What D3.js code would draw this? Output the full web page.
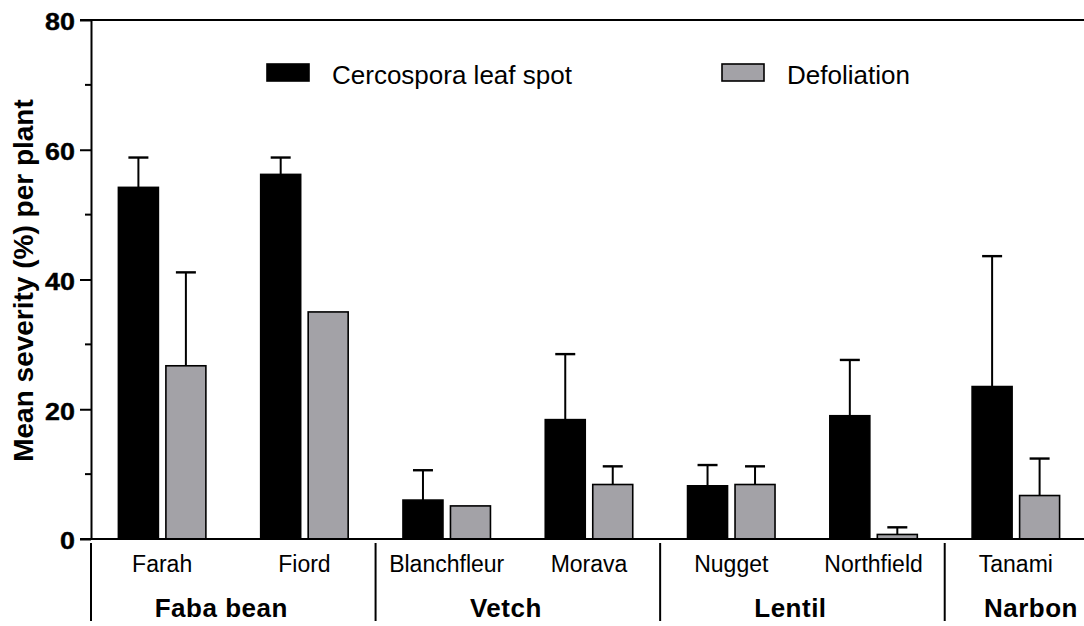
<!DOCTYPE html>
<html>
<head>
<meta charset="utf-8">
<script src="https://cdn.jsdelivr.net/npm/d3@7"></script>
<style>
  body { margin: 0; background: #fff; }
  text { font-family: "Liberation Sans", Arial, sans-serif; fill: #000; }
</style>
</head>
<body>
<div id="chart"></div>
<script>
// Data
let categories = ['Farah', 'Fiord', 'Blanchfleur', 'Morava', 'Nugget', 'Northfield', 'Tanami'];
let groups = ['Faba bean', 'Vetch', 'Lentil', 'Narbon'];
let group_of = ['Faba bean', 'Faba bean', 'Vetch', 'Vetch', 'Lentil', 'Lentil', 'Narbon'];
let series = ['Cercospora leaf spot', 'Defoliation'];
let leaf_spot = [54.2, 56.2, 6.0, 18.4, 8.2, 19.0, 23.5];
let leaf_spot_err = [4.6, 2.6, 4.6, 10.1, 3.2, 8.6, 20.1];
let defoliation = [26.7, 35.0, 5.1, 8.4, 8.4, 0.7, 6.7];
let defoliation_err = [14.4, 0, 0, 2.8, 2.8, 1.1, 5.7];
let y_ticks = [0, 20, 40, 60, 80];
let y_minor = [10, 30, 50, 70];

//----------------------------------------
// SVG setup
let width = 1084,
    height = 626;

let svg = d3.select('#chart').append('svg')
    .attr('width', width)
    .attr('height', height);

let plot_left = 91, plot_top = 20, plot_bottom = 539;

//----------------------------------------
// Scales
let x = d3.scaleBand()
    .domain(categories)
    .range([plot_left, 1087])
    .padding(0);

let x_inner = d3.scaleBand()
    .domain(series)
    .range([0, x.bandwidth()])
    .paddingInner(0.158)
    .paddingOuter(0.577);

let y = d3.scaleLinear()
    .domain([0, 80])
    .range([plot_bottom, plot_top]);

let colors = { 'Cercospora leaf spot': '#000000', 'Defoliation': '#a3a2a7' };

let rows = [];
categories.forEach(function(c, i) {
    rows.push({ cat: c, s: series[0], v: leaf_spot[i], e: leaf_spot_err[i] });
    rows.push({ cat: c, s: series[1], v: defoliation[i], e: defoliation_err[i] });
});

//----------------------------------------
// Top frame line
svg.append('line')
    .attr('x1', 80).attr('x2', width)
    .attr('y1', y(80)).attr('y2', y(80))
    .style('stroke', '#000').style('stroke-width', 2);

//----------------------------------------
// Bars
svg.selectAll('rect.bar')
    .data(rows)
    .enter()
    .append('rect')
    .attr('class', 'bar')
    .attr('x', d => x(d.cat) + x_inner(d.s))
    .attr('y', d => y(d.v))
    .attr('width', x_inner.bandwidth())
    .attr('height', d => y(0) - y(d.v))
    .style('fill', d => colors[d.s])
    .style('stroke', '#000')
    .style('stroke-width', 1.6);

// Error bars (upper only)
let err_rows = rows.filter(d => d.e > 0);
let err = svg.selectAll('g.err')
    .data(err_rows)
    .enter()
    .append('g')
    .attr('class', 'err')
    .attr('transform', d => 'translate(' + (x(d.cat) + x_inner(d.s) + x_inner.bandwidth() / 2) + ',0)');

err.append('line')
    .attr('x1', 0).attr('x2', 0)
    .attr('y1', d => y(d.v)).attr('y2', d => y(d.v + d.e))
    .style('stroke', '#000').style('stroke-width', 2);
err.append('line')
    .attr('x1', -10).attr('x2', 10)
    .attr('y1', d => y(d.v + d.e)).attr('y2', d => y(d.v + d.e))
    .style('stroke', '#000').style('stroke-width', 2.4);

// x axis line
svg.append('line')
    .attr('x1', 80).attr('x2', width)
    .attr('y1', y(0)).attr('y2', y(0))
    .style('stroke', '#000').style('stroke-width', 2);

//----------------------------------------
// Y axis
let y_axis = svg.append('g')
    .attr('transform', 'translate(' + plot_left + ',0)')
    .call(d3.axisLeft(y).tickValues(y_ticks).tickSize(11).tickSizeOuter(0));

y_axis.select('.domain').style('stroke-width', 2);
y_axis.selectAll('.tick line').style('stroke-width', 2);
y_axis.selectAll('.tick text')
    .attr('x', 0)
    .attr('dy', '0.37em')
    .attr('transform', 'translate(-16,1) scale(1.12,1)')
    .style('font-family', '"Liberation Sans", Arial, sans-serif')
    .style('font-size', '24px')
    .style('font-weight', 'bold')
    .style('stroke', '#000')
    .style('stroke-width', 0.4);

y_axis.selectAll('line.minor')
    .data(y_minor)
    .enter()
    .append('line')
    .attr('class', 'minor')
    .attr('x1', -6).attr('x2', 0)
    .attr('y1', d => y(d)).attr('y2', d => y(d))
    .style('stroke', '#000').style('stroke-width', 2);

svg.append('text')
    .attr('transform', 'translate(33,' + ((plot_top + plot_bottom) / 2 + 1) + ') rotate(-90)')
    .attr('text-anchor', 'middle')
    .style('font-size', '28px')
    .style('font-weight', 'bold')
    .text('Mean severity (%) per plant');

//----------------------------------------
// Category labels
svg.selectAll('text.cat')
    .data(categories)
    .enter()
    .append('text')
    .attr('class', 'cat')
    .attr('x', d => x(d) + x.bandwidth() / 2)
    .attr('y', 572)
    .attr('text-anchor', 'middle')
    .style('font-size', '23px')
    .text(d => d);

// Group dividers and labels
groups.forEach(function(g, gi) {
    let members = categories.filter((c, i) => group_of[i] === g);
    let x0 = x(members[0]);
    let x1 = x(members[members.length - 1]) + x.bandwidth();
    svg.append('line')
        .attr('x1', x0).attr('x2', x0)
        .attr('y1', 543).attr('y2', 621)
        .style('stroke', '#000').style('stroke-width', 2);
    let last = gi === groups.length - 1;
    svg.append('text')
        .attr('x', last ? width - 6 : (x0 + x1) / 2 - 12)
        .attr('y', 617)
        .attr('text-anchor', last ? 'end' : 'middle')
        .style('font-size', '26px')
        .style('font-weight', 'bold')
        .style('letter-spacing', '0.5px')
        .text(g);
});

//----------------------------------------
// Legend
let legend_x = [267, 722];
let legend = svg.selectAll('g.legend')
    .data(series)
    .enter()
    .append('g')
    .attr('class', 'legend')
    .attr('transform', (d, i) => 'translate(' + legend_x[i] + ',64)');

legend.append('rect')
    .attr('width', 42)
    .attr('height', 17)
    .style('fill', d => colors[d])
    .style('stroke', '#000')
    .style('stroke-width', 1.6);

legend.append('text')
    .attr('x', 65)
    .attr('y', 19.5)
    .style('font-size', '26px')
    .text(d => d);
</script>
</body>
</html>
